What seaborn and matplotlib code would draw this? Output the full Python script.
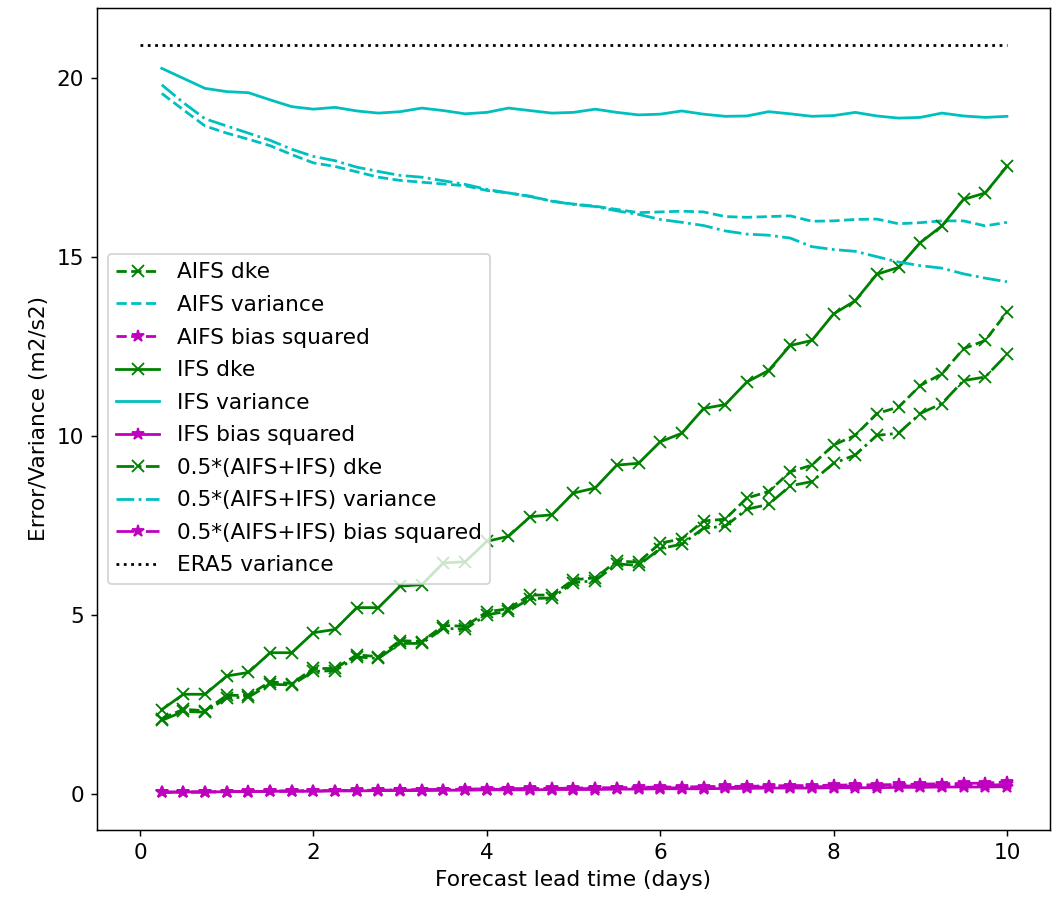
import matplotlib
matplotlib.use("Agg")
import matplotlib.pyplot as plt
import seaborn as sns

# lead times (days)
lead = [0.25, 0.5, 0.75, 1.0, 1.25, 1.5, 1.75, 2.0, 2.25, 2.5,
        2.75, 3.0, 3.25, 3.5, 3.75, 4.0, 4.25, 4.5, 4.75, 5.0,
        5.25, 5.5, 5.75, 6.0, 6.25, 6.5, 6.75, 7.0, 7.25, 7.5,
        7.75, 8.0, 8.25, 8.5, 8.75, 9.0, 9.25, 9.5, 9.75, 10.0]

aifs_dke = [2.10, 2.36, 2.32, 2.75, 2.75, 3.13, 3.08, 3.50, 3.50, 3.88,
            3.83, 4.28, 4.25, 4.70, 4.68, 5.08, 5.17, 5.55, 5.55, 5.98,
            6.03, 6.50, 6.47, 7.00, 7.12, 7.62, 7.67, 8.26, 8.44, 8.99,
            9.18, 9.74, 10.01, 10.62, 10.80, 11.40, 11.73, 12.43, 12.66, 13.45]
aifs_var = [19.56, 19.10, 18.65, 18.45, 18.28, 18.10, 17.85, 17.62, 17.52, 17.37,
            17.22, 17.13, 17.08, 17.03, 16.98, 16.85, 16.78, 16.69, 16.55, 16.47,
            16.41, 16.32, 16.23, 16.25, 16.27, 16.25, 16.12, 16.10, 16.12, 16.14,
            15.99, 16.00, 16.04, 16.05, 15.92, 15.95, 16.00, 16.00, 15.86, 15.96]
aifs_bias = [0.04, 0.05, 0.05, 0.06, 0.07, 0.07, 0.08, 0.09, 0.09, 0.10,
             0.10, 0.11, 0.12, 0.12, 0.13, 0.14, 0.14, 0.15, 0.15, 0.16,
             0.17, 0.17, 0.18, 0.19, 0.19, 0.20, 0.21, 0.21, 0.22, 0.23,
             0.23, 0.24, 0.25, 0.25, 0.26, 0.27, 0.28, 0.29, 0.30, 0.33]

ifs_dke = [2.35, 2.78, 2.78, 3.29, 3.39, 3.94, 3.94, 4.50, 4.59, 5.20,
           5.20, 5.80, 5.84, 6.45, 6.48, 7.05, 7.19, 7.74, 7.79, 8.40,
           8.54, 9.18, 9.23, 9.83, 10.07, 10.76, 10.87, 11.50, 11.82, 12.52,
           12.66, 13.40, 13.77, 14.51, 14.70, 15.39, 15.86, 16.60, 16.78, 17.52]
ifs_var = [20.26, 19.98, 19.70, 19.61, 19.58, 19.38, 19.19, 19.12, 19.17, 19.07,
           19.01, 19.05, 19.15, 19.08, 18.99, 19.03, 19.15, 19.08, 19.01, 19.03,
           19.12, 19.03, 18.96, 18.98, 19.07, 18.98, 18.92, 18.93, 19.05, 18.99,
           18.92, 18.94, 19.03, 18.93, 18.87, 18.89, 19.01, 18.93, 18.89, 18.92]
ifs_bias = [0.05, 0.05, 0.05, 0.06, 0.06, 0.07, 0.07, 0.07, 0.08, 0.08,
            0.09, 0.09, 0.09, 0.10, 0.10, 0.11, 0.11, 0.11, 0.12, 0.12,
            0.12, 0.13, 0.13, 0.14, 0.14, 0.14, 0.15, 0.15, 0.16, 0.16,
            0.16, 0.17, 0.17, 0.17, 0.18, 0.18, 0.19, 0.19, 0.19, 0.20]

mean_dke = [2.05, 2.30, 2.28, 2.68, 2.70, 3.06, 3.04, 3.42, 3.44, 3.82,
            3.78, 4.20, 4.20, 4.62, 4.60, 5.00, 5.10, 5.45, 5.47, 5.90,
            5.95, 6.42, 6.38, 6.85, 6.97, 7.42, 7.47, 7.95, 8.08, 8.60,
            8.72, 9.23, 9.46, 10.01, 10.07, 10.62, 10.90, 11.54, 11.64, 12.27]
mean_var = [19.80, 19.30, 18.85, 18.65, 18.45, 18.25, 18.00, 17.80, 17.68, 17.50,
            17.38, 17.27, 17.22, 17.12, 17.02, 16.88, 16.78, 16.68, 16.55, 16.46,
            16.40, 16.28, 16.18, 16.04, 15.96, 15.87, 15.72, 15.63, 15.60, 15.52,
            15.28, 15.20, 15.15, 15.00, 14.85, 14.75, 14.68, 14.52, 14.40, 14.30]
mean_bias = [0.04, 0.05, 0.05, 0.06, 0.06, 0.07, 0.08, 0.08, 0.09, 0.09,
             0.10, 0.10, 0.11, 0.11, 0.12, 0.12, 0.13, 0.13, 0.14, 0.14,
             0.15, 0.15, 0.16, 0.16, 0.17, 0.17, 0.18, 0.18, 0.19, 0.19,
             0.20, 0.20, 0.21, 0.21, 0.22, 0.22, 0.23, 0.24, 0.24, 0.26]

era5_x = [0.0, 10.0]
era5_var = [20.9, 20.9]

plt.rcParams["font.size"] = 11.7

fig, ax = plt.subplots(figsize=(1063 / 133, 897 / 133), dpi=133)
fig.subplots_adjust(left=0.091, right=0.988, bottom=0.075, top=0.991)

series = [
    (aifs_dke, "AIFS dke", "g", "--", "x"),
    (aifs_var, "AIFS variance", "c", "--", None),
    (aifs_bias, "AIFS bias squared", "m", "--", "*"),
    (ifs_dke, "IFS dke", "g", "-", "x"),
    (ifs_var, "IFS variance", "c", "-", None),
    (ifs_bias, "IFS bias squared", "m", "-", "*"),
    (mean_dke, "0.5*(AIFS+IFS) dke", "g", "-.", "x"),
    (mean_var, "0.5*(AIFS+IFS) variance", "c", "-.", None),
    (mean_bias, "0.5*(AIFS+IFS) bias squared", "m", "-.", "*"),
]

for vals, lab, col, ls, mk in series:
    sns.lineplot(x=lead, y=vals, ax=ax, color=col, linestyle=ls, marker=mk,
                 markeredgecolor=col, markerfacecolor=col, markeredgewidth=1.0,
                 markersize=6.5, linewidth=1.5, label=lab)

sns.lineplot(x=era5_x, y=era5_var, ax=ax, color="k", linestyle=":",
             linewidth=1.5, label="ERA5 variance")

ax.set_xlabel("Forecast lead time (days)")
ax.set_ylabel("Error/Variance (m2/s2)")
ax.legend(loc="center left", labelspacing=0.58)

fig.savefig("out.png", dpi=133)
